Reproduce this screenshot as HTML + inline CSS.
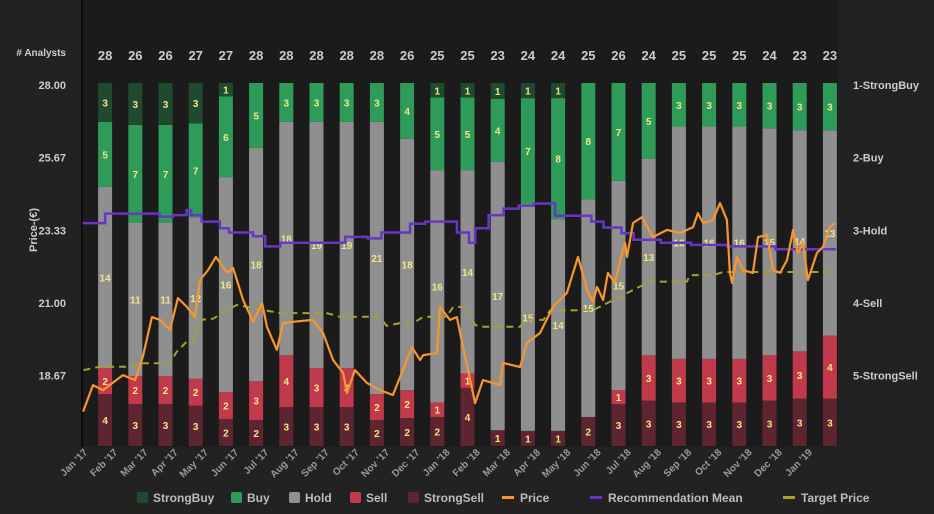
<!DOCTYPE html>
<html><head><meta charset="utf-8"><style>
html,body{margin:0;padding:0;background:#222;}
svg{display:block;font-family:"Liberation Sans",sans-serif;}
</style></head><body>
<svg id="chart" width="934" height="514" viewBox="0 0 934 514" xmlns="http://www.w3.org/2000/svg">
<rect x="0" y="0" width="934" height="514" fill="#222"/>
<rect x="82" y="0" width="756" height="447" fill="#1b1b1b"/>
<line x1="82" y1="0" x2="82" y2="447" stroke="#0a0a0a" stroke-width="2"/>
<text x="66" y="56" text-anchor="end" fill="#ccc" font-size="10" font-weight="bold"># Analysts</text>
<text transform="translate(37,230) rotate(-90)" text-anchor="middle" fill="#ccc" font-size="11" font-weight="bold">Price-(€)</text>
<g id="g-ticks"></g><g id="g-bars"></g><g id="g-lines"></g><g id="g-legend"></g>
</svg>
<script>
const months=["Jan '17","Feb '17","Mar '17","Apr '17","May '17","Jun '17","Jul '17","Aug '17","Sep '17","Oct '17","Nov '17","Dec '17","Jan '18","Feb '18","Mar '18","Apr '18","May '18","Jun '18","Jul '18","Aug '18","Sep '18","Oct '18","Nov '18","Dec '18","Jan '19"];
const strongBuy=[3,3,3,3,1,0,0,0,0,0,0,1,1,1,1,1,0,0,0,0,0,0,0,0,0];
const buy=[5,7,7,7,6,5,3,3,3,3,4,5,5,4,7,8,8,7,5,3,3,3,3,3,3];
const hold=[14,11,11,12,16,18,18,19,19,21,18,16,14,17,15,14,15,15,13,16,16,16,15,14,13];
const sell=[2,2,2,2,2,3,4,3,3,2,2,1,1,0,0,0,0,1,3,3,3,3,3,3,4];
const strongSell=[4,3,3,3,2,2,3,3,3,2,2,2,4,1,1,1,2,3,3,3,3,3,3,3,3];
const priceTicks=[28.00,25.67,23.33,21.00,18.67];
const ratingTicks=["1-StrongBuy","2-Buy","3-Hold","4-Sell","5-StrongSell"];
// [month offset from Jan 2017 start, value]
const price=[[-0.23,17.52],[0.10,18.37],[0.43,18.21],[1.09,18.69],[1.49,18.53],[1.75,19.27],[2.05,20.55],[2.32,20.46],[2.65,20.14],[2.91,21.16],[3.21,20.88],[3.48,20.55],[3.64,21.74],[3.91,22.06],[4.17,22.48],[4.54,21.97],[4.74,22.13],[5.07,21.1],[5.40,20.4],[5.70,21.0],[5.86,20.23],[6.19,19.5],[6.39,20.36],[6.72,20.4],[7.38,20.46],[7.72,20.04],[8.05,19.17],[8.38,18.76],[8.51,18.12],[8.77,18.85],[9.17,18.44],[9.60,18.21],[10.03,18.05],[10.36,18.85],[10.66,19.59],[10.93,19.17],[11.03,19.33],[11.49,19.4],[11.59,20.88],[11.92,20.46],[12.15,20.55],[12.35,19.59],[12.52,18.85],[12.75,17.79],[13.01,18.53],[13.58,18.37],[13.68,19.08],[14.24,18.95],[14.47,19.72],[14.90,20.04],[15.33,20.88],[15.79,21.33],[16.16,22.48],[16.49,21.33],[16.66,21.04],[16.79,21.52],[16.99,21.1],[17.15,21.97],[17.38,21.65],[17.62,22.61],[17.72,22.93],[17.78,22.48],[17.98,23.57],[18.28,23.76],[18.64,23.12],[19.11,23.35],[19.54,23.25],[19.97,23.44],[20.13,23.89],[20.30,23.57],[20.63,23.67],[20.86,24.21],[21.09,23.67],[21.19,21.97],[21.26,21.65],[21.42,22.48],[21.62,22.06],[21.95,21.97],[22.12,23.12],[22.42,23.19],[22.62,22.06],[22.85,21.97],[23.08,22.38],[23.28,23.35],[23.44,22.61],[23.61,22.93],[23.77,21.74],[24.07,22.61],[24.27,22.8],[24.50,23.44],[24.67,23.57]];
const recMean=[[-0.25,2.90],[0.5,2.77],[2.3,2.81],[2.75,2.79],[3.2,2.72],[3.35,2.79],[3.7,2.88],[4.3,2.97],[4.6,3.03],[5.4,3.08],[5.8,3.22],[6.3,3.17],[8.45,3.09],[9.2,3.11],[9.65,3.03],[10.6,2.91],[11.1,2.88],[12.15,3.03],[12.55,3.17],[12.75,2.97],[13.2,2.79],[13.7,2.70],[14.2,2.66],[14.7,2.63],[15.4,2.80],[16.6,2.88],[17.0,2.96],[17.6,3.04],[18.0,3.13],[18.9,3.17],[19.9,3.20],[21.1,3.22],[22.7,3.26],[24.7,3.26]];
const target=[[-0.22,18.85],[0.33,18.96],[1.44,18.96],[1.6,19.07],[2.65,19.07],[2.87,19.44],[3.2,19.76],[3.42,19.76],[3.64,20.46],[4.08,20.5],[4.53,20.78],[4.86,20.94],[5.41,20.84],[6.29,20.68],[7.84,20.68],[8.28,20.56],[9.6,20.56],[9.82,20.27],[10.26,20.36],[10.7,20.36],[11.04,20.56],[11.8,20.56],[12.03,20.88],[12.47,20.88],[12.75,20.3],[12.91,20.24],[14.24,20.24],[14.46,20.46],[15.01,20.46],[15.23,20.76],[16.67,20.78],[17.0,20.94],[17.33,21.1],[17.66,21.26],[18.1,21.48],[18.54,21.69],[19.76,21.69],[19.87,21.9],[20.64,21.9],[20.97,22.0],[24.72,22.0]];

const NS="http://www.w3.org/2000/svg";
const X0=90, MW=30.2, YT=85, PPU=31.16, BAR_TOP=83, BAR_BOT=446, BW=14;
const xm=m=>X0+m*MW;
const yp=p=>YT+(28-p)*PPU;
const yr=r=>yp(28-(r-1)*(28-18.67)/4);
function el(tag,attrs,parent,text){const e=document.createElementNS(NS,tag);for(const k in attrs)e.setAttribute(k,attrs[k]);if(text!==undefined)e.textContent=text;parent.appendChild(e);return e;}
const gT=document.getElementById('g-ticks'),gB=document.getElementById('g-bars'),gL=document.getElementById('g-lines'),gLeg=document.getElementById('g-legend');

priceTicks.forEach(p=>{const t=el('text',{x:66,y:yp(p)+4,'text-anchor':'end',fill:'#ccc','font-size':11,'font-weight':'bold'},gT,p.toFixed(2));

});
ratingTicks.forEach((r,i)=>{const t=el('text',{x:853,y:yr(i+1)+4,fill:'#ccc','font-size':11,'font-weight':'bold'},gT,r);

});

const segs=[[strongSell,'#5e2530','strong-sell'],[sell,'#c03a4b','sell'],[hold,'#8f8f8f','hold'],[buy,'#2f9b58','buy'],[strongBuy,'#1f4a2e','strong-buy']];
months.forEach((mo,i)=>{
  const cx=xm(i+0.5);
  const total=strongBuy[i]+buy[i]+hold[i]+sell[i]+strongSell[i];
  const unit=(BAR_BOT-BAR_TOP)/total;
  const c=el('text',{x:cx,y:60,'text-anchor':'middle',fill:'#ccc','font-size':13,'font-weight':'bold'},gT,total);
  
  
  let y=BAR_BOT;
  segs.forEach(([arr,col,nm])=>{
    const v=arr[i]; if(!v)return;
    const h=v*unit; y-=h;
    const r=el('rect',{x:cx-BW/2,y:y,width:BW,height:h,fill:col},gB);
    
    
    const t=el('text',{x:cx,y:y+h/2+4,'text-anchor':'middle',fill:'#f0e68c','font-size':10,'font-weight':'bold'},gB,v);
    
    
  });
  const lx=xm(i)-2, ly=453;
  const xl=el('text',{transform:`translate(${lx},${ly}) rotate(-45)`,'text-anchor':'end',fill:'#999','font-size':10,'font-weight':'bold'},gT,mo);
  
  
});

let d='';target.forEach((p,i)=>{d+=(i?'L':'M')+xm(p[0]).toFixed(1)+','+yp(p[1]).toFixed(1);});
const tl=el('path',{d:d,fill:'none',stroke:'#a9a02a','stroke-width':2,'stroke-dasharray':'7,5'},gL);


d='';recMean.forEach((p,i)=>{const x=xm(p[0]).toFixed(1),y=yr(p[1]).toFixed(1);if(i===0)d+='M'+x+','+y;else{d+='H'+x+'V'+y;}});
const rl=el('path',{d:d,fill:'none',stroke:'#6a35c4','stroke-width':2.5},gL);


d='';price.forEach((p,i)=>{d+=(i?'L':'M')+xm(p[0]).toFixed(1)+','+yp(p[1]).toFixed(1);});
const pl=el('path',{d:d,fill:'none',stroke:'#f7962d','stroke-width':2.2,'stroke-linejoin':'round'},gL);



const legend=[['StrongBuy','#1f4a2e','sq',137],['Buy','#2f9b58','sq',231],['Hold','#8f8f8f','sq',289],['Sell','#c03a4b','sq',350],['StrongSell','#5e2530','sq',408],['Price','#f7962d','ln',502],['Recommendation Mean','#6a35c4','ln',590],['Target Price','#a9a02a','ln',783]];
legend.forEach(([name,col,kind,x])=>{
  const g=el('g',{},gLeg);
  
  
  if(kind==='sq')el('rect',{x:x,y:492,width:11,height:11,rx:2,fill:col},g);
  else el('rect',{x:x,y:496,width:12,height:3,fill:col},g);
  el('text',{x:x+(kind==='sq'?16:18),y:502,fill:'#bbb','font-size':12,'font-weight':'bold'},g,name);
});
</script>
</body></html>
